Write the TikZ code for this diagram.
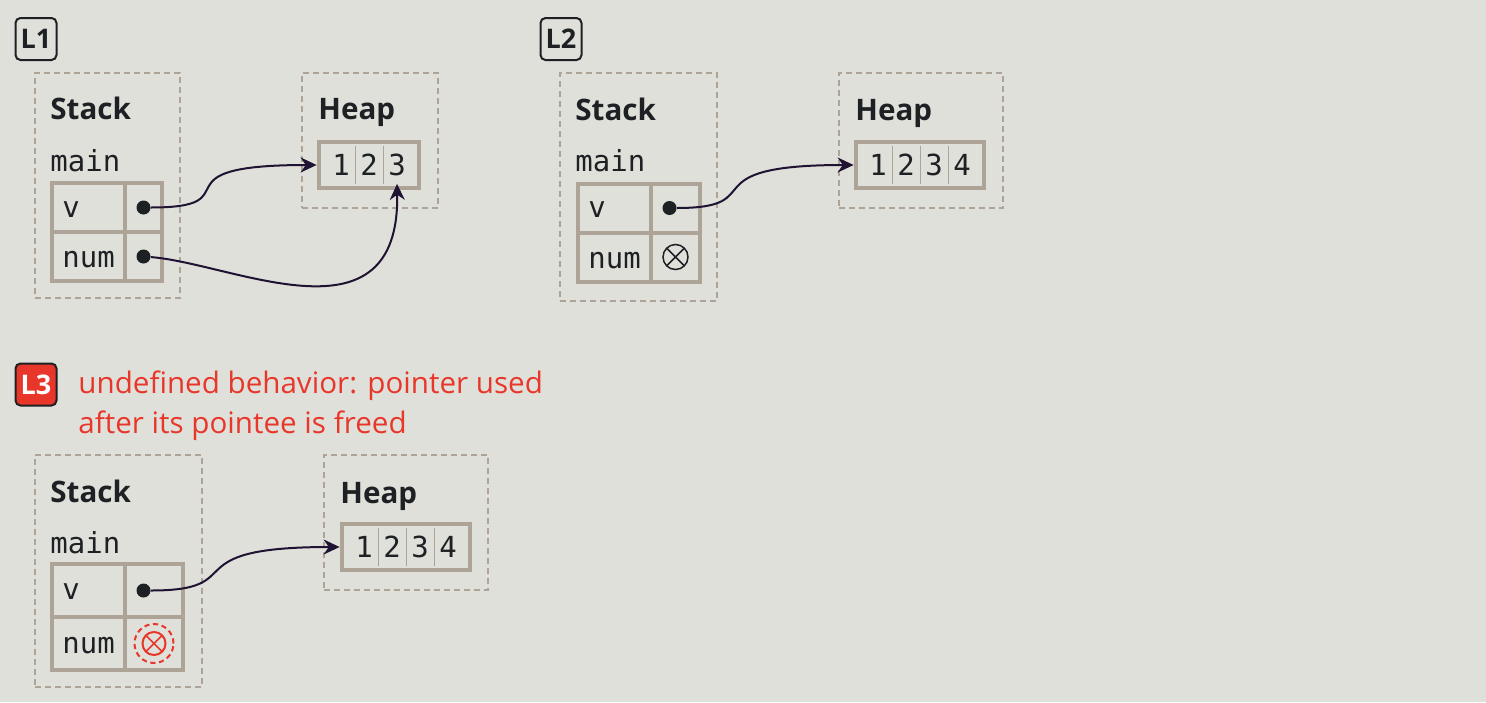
\documentclass[tikz,border=0pt]{standalone}
\usepackage{fontspec}
\setmainfont{Open Sans}
\setmonofont{DejaVu Sans Mono}
\usepackage{tikz}
\usetikzlibrary{arrows.meta,calc,fit,positioning}
\definecolor{bg}{HTML}{E0E0DA}
\definecolor{boxtan}{HTML}{ADA397}
\definecolor{ink}{HTML}{1E2124}
\definecolor{ptrcol}{HTML}{1F1233}
\definecolor{ubred}{HTML}{E8372A}
\tikzset{
	memframe/.style={draw=boxtan, dash pattern=on 3pt off 2pt, line width=.75pt, inner sep=0pt},
	region/.style={font=\bfseries\fontsize{14.8}{17}\selectfont, text=ink, anchor=base west, inner sep=0pt},
	frname/.style={font=\ttfamily\fontsize{14.5}{17}\selectfont, text=ink, anchor=base west, inner sep=0pt},
	cellbase/.style={draw=boxtan, line width=2pt, outer sep=0pt, inner sep=0pt},
	namecell/.style={cellbase, minimum width=36.5pt, minimum height=#1},
	namecell/.default=24.5pt,
	cellname/.style={frname},
	valcell/.style 2 args={cellbase, minimum width=#1, minimum height=#2},
	ptrdot/.style={circle, fill=ink, minimum size=7pt, inner sep=0pt},
	nullptr/.style={circle, draw=#1, minimum size=12.5pt, inner sep=0pt, line width=.75pt,
		path picture={\draw[#1, line width=.75pt]
			(path picture bounding box.north west) -- (path picture bounding box.south east)
			(path picture bounding box.north east) -- (path picture bounding box.south west);}},
	nullptr/.default=ink,
	digit/.style={minimum width=14pt, minimum height=18.5pt, inner sep=0pt,
		font=\ttfamily\fontsize{14.5}{17}\selectfont, text=ink},
	arraybox/.style={draw=boxtan, line width=2pt, inner xsep=4pt, inner ysep=2.25pt},
	divider/.style={draw=boxtan, line width=.75pt},
	ptr/.style={draw=ptrcol, line width=1pt, -{Stealth[length=8pt,width=7.5pt]}},
	badge/.style={draw=ink, line width=1pt, rounded corners=2.5pt, minimum width=20.5pt,
		minimum height=21pt, inner sep=0pt, font=\bfseries\fontsize{13.5}{15}\selectfont, text=ink},
	ubbadge/.style={badge, fill=ubred, text=white},
	ubnote/.style={font=\fontsize{14.8}{20.25}\selectfont, text=ubred, align=left, anchor=base west, inner sep=0pt}
}

\begin{document}
\begin{tikzpicture}[x=0.5pt, y=-0.5pt]
   \fill[bg] (0,0) rectangle (1486,702);
   \useasboundingbox (0,0) rectangle (1486,702);
   % L1
   \node[badge] (b1) at (36,39) {L1};
   \node[memframe, fit={(35,73) (180,298)}] (s1) {};
   \node[region] (s1_title) at (50,119) {Stack};
   \node[frname] (s1_main) at (50,171) {main};
   \node[namecell] (s1_v) at (88.5,207.5) {};
   \node[valcell={18.5pt}{24.5pt}, right=0pt of s1_v] (s1_vp) {};
   \node[namecell, below=0pt of s1_v] (s1_num) {};
   \node[valcell={18.5pt}{24.5pt}, right=0pt of s1_num] (s1_nump) {};
   \node[cellname] (s1_v_t) at (62,217) {v};
   \node[cellname] (s1_num_t) at (62,267.5) {num};
   \node[ptrdot] (d1_v) at ([xshift=9.25pt]s1_vp.west) {};
   \node[ptrdot] (d1_num) at ([xshift=9.25pt]s1_nump.west) {};
   \node[memframe, fit={(302,73) (438,208)}] (h1) {};
   \node[region] (h1_title) at (318,119) {Heap};
   \foreach \d [count=\i] in {1,2,3}
      \node[digit] (a1_\i) at ({313+28*\i},165) {\d};
   \node[arraybox, fit=(a1_1) (a1_3)] (arr1) {};
   \foreach \i in {1,2}
      \draw[divider] (a1_\i.north east) -- (a1_\i.south east);
   \draw[ptr] (d1_v) .. controls +(112,0) and +(-168,0) .. (arr1.west);
   \draw[ptr] (d1_num) .. controls +(90,7) and +(3,165) .. (a1_3.south);
   % L2
   \node[badge] (b2) at (561,39) {L2};
   \node[memframe, fit={(560,73) (717,301)}] (s2) {};
   \node[region] (s2_title) at (575,120) {Stack};
   \node[frname] (s2_main) at (575,171) {main};
   \node[namecell] (s2_v) at (614.5,208) {};
   \node[valcell={24.5pt}{24.5pt}, right=0pt of s2_v] (s2_vp) {};
   \node[namecell, below=0pt of s2_v] (s2_num) {};
   \node[valcell={24.5pt}{24.5pt}, right=0pt of s2_num] (s2_nump) {};
   \node[cellname] (s2_v_t) at (588,217) {v};
   \node[cellname] (s2_num_t) at (588,268) {num};
   \node[ptrdot] (d2_v) at ([xshift=9.25pt]s2_vp.west) {};
   \node[nullptr] (n2_num) at (s2_nump.center) {};
   \node[memframe, fit={(839,73) (1003,208)}] (h2) {};
   \node[region] (h2_title) at (855,120) {Heap};
   \foreach \d [count=\i] in {1,2,3,4}
      \node[digit] (a2_\i) at ({850+28*\i},165) {\d};
   \node[arraybox, fit=(a2_1) (a2_4)] (arr2) {};
   \foreach \i in {1,2,3}
      \draw[divider] (a2_\i.north east) -- (a2_\i.south east);
   \draw[ptr] (d2_v) .. controls +(104,0) and +(-168,0) .. (arr2.west);
   % L3
   \node[ubbadge] (b3) at (36,384.5) {L3};
   \node[ubnote] (ub_msg) at (78,433.5) {undefined behavior: pointer used\\after its pointee is freed};
   \node[memframe, fit={(35,455) (202,687)}] (s3) {};
   \node[region] (s3_title) at (50,502) {Stack};
   \node[frname] (s3_main) at (50,553) {main};
   \node[namecell=26.5pt] (s3_v) at (88.5,590.5) {};
   \node[valcell={29pt}{26.5pt}, right=0pt of s3_v] (s3_vp) {};
   \node[namecell=26.5pt, below=0pt of s3_v] (s3_num) {};
   \node[valcell={29pt}{26.5pt}, right=0pt of s3_num] (s3_nump) {};
   \node[cellname] (s3_v_t) at (62,599.5) {v};
   \node[cellname] (s3_num_t) at (62,653) {num};
   \node[ptrdot] (d3_v) at ([xshift=9.25pt]s3_vp.west) {};
   \node[nullptr=ubred, minimum size=11.5pt, line width=1pt] (n3_num) at (s3_nump.center) {};
   \node[circle, draw=ubred, dash pattern=on 2.6pt off 1.8pt, line width=1pt,
      minimum size=19.5pt] (n3_ring) at (n3_num.center) {};
   \node[memframe, fit={(324,455) (488,590)}] (h3) {};
   \node[region] (h3_title) at (340,503) {Heap};
   \foreach \d [count=\i] in {1,2,3,4}
      \node[digit] (a3_\i) at ({336+28*\i},547) {\d};
   \node[arraybox, fit=(a3_1) (a3_4)] (arr3) {};
   \foreach \i in {1,2,3}
      \draw[divider] (a3_\i.north east) -- (a3_\i.south east);
   \draw[ptr] (d3_v) .. controls +(110,0) and +(-170,0) .. (arr3.west);
\end{tikzpicture}
\end{document}
